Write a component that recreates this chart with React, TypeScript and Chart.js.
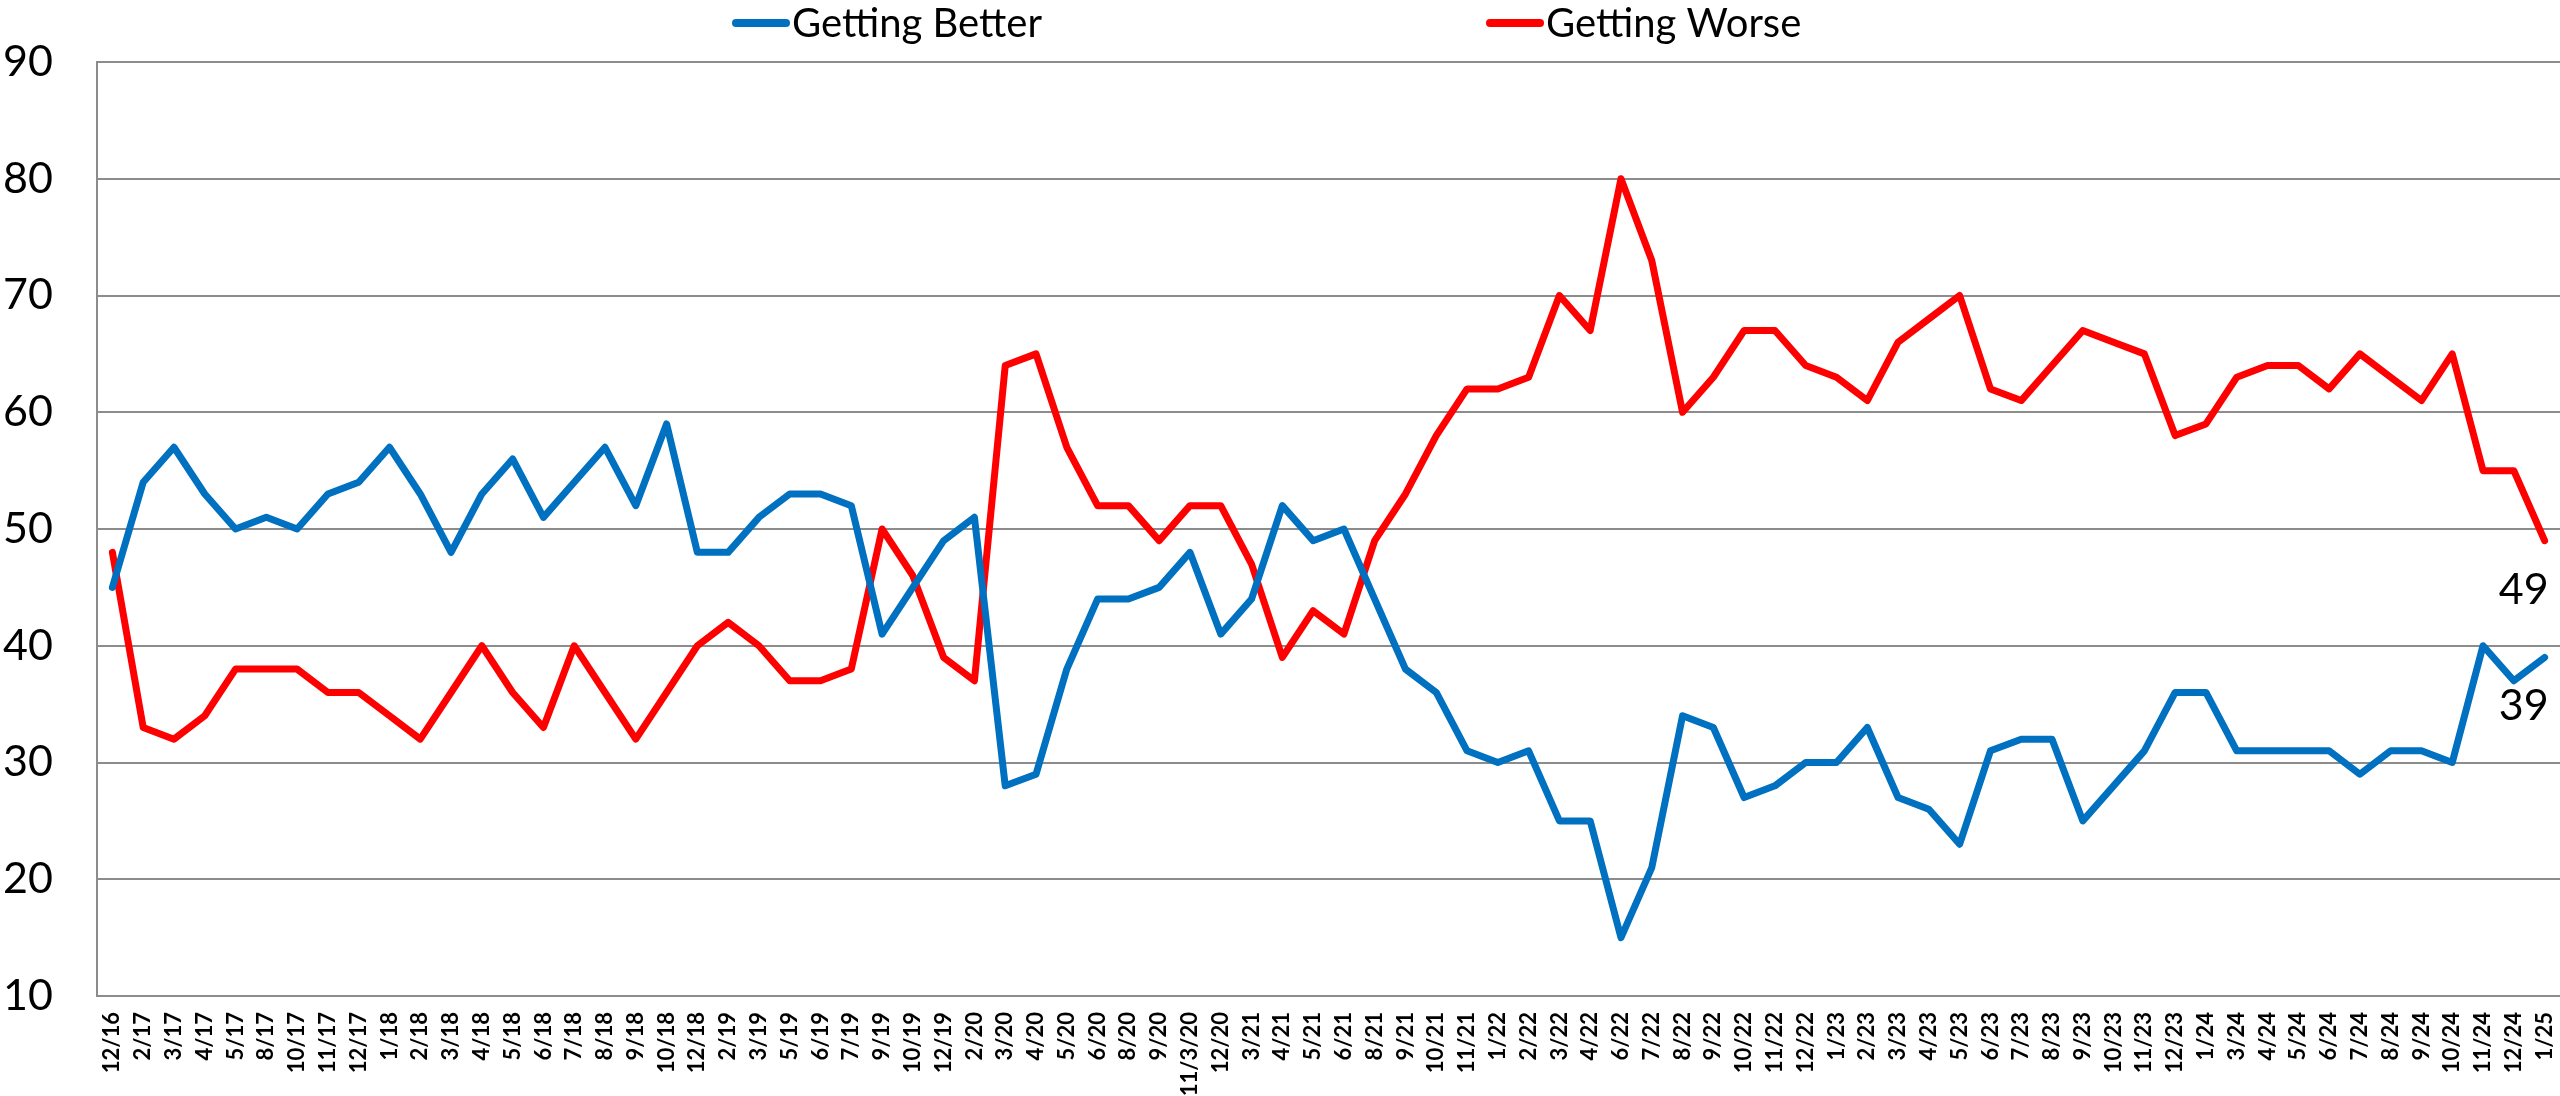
import React, { useEffect, useRef } from "react";
import { Chart, registerables } from "chart.js";

Chart.register(...registerables);

const categories: string[] = [
  "12/16", "2/17", "3/17", "4/17", "5/17", "8/17", "10/17", "11/17", "12/17",
  "1/18", "2/18", "3/18", "4/18", "5/18", "6/18", "7/18", "8/18", "9/18", "10/18", "12/18",
  "2/19", "3/19", "5/19", "6/19", "7/19", "9/19", "10/19", "12/19",
  "2/20", "3/20", "4/20", "5/20", "6/20", "8/20", "9/20", "11/3/20", "12/20",
  "3/21", "4/21", "5/21", "6/21", "8/21", "9/21", "10/21", "11/21",
  "1/22", "2/22", "3/22", "4/22", "6/22", "7/22", "8/22", "9/22", "10/22", "11/22", "12/22",
  "1/23", "2/23", "3/23", "4/23", "5/23", "6/23", "7/23", "8/23", "9/23", "10/23", "11/23", "12/23",
  "1/24", "3/24", "4/24", "5/24", "6/24", "7/24", "8/24", "9/24", "10/24", "11/24", "12/24",
  "1/25",
];

const gettingBetter: number[] = [
  45, 54, 57, 53, 50, 51, 50, 53, 54,
  57, 53, 48, 53, 56, 51, 54, 57, 52, 59, 48,
  48, 51, 53, 53, 52, 41, 45, 49,
  51, 28, 29, 38, 44, 44, 45, 48, 41,
  44, 52, 49, 50, 44, 38, 36, 31,
  30, 31, 25, 25, 15, 21, 34, 33, 27, 28, 30,
  30, 33, 27, 26, 23, 31, 32, 32, 25, 28, 31, 36,
  36, 31, 31, 31, 31, 29, 31, 31, 30, 40, 37,
  39,
];

const gettingWorse: number[] = [
  48, 33, 32, 34, 38, 38, 38, 36, 36,
  34, 32, 36, 40, 36, 33, 40, 36, 32, 36, 40,
  42, 40, 37, 37, 38, 50, 46, 39,
  37, 64, 65, 57, 52, 52, 49, 52, 52,
  47, 39, 43, 41, 49, 53, 58, 62,
  62, 63, 70, 67, 80, 73, 60, 63, 67, 67, 64,
  63, 61, 66, 68, 70, 62, 61, 64, 67, 66, 65, 58,
  59, 63, 64, 64, 62, 65, 63, 61, 65, 55, 55,
  49,
];

const seriesNames: string[] = ["Getting Better", "Getting Worse"];
const seriesColors: string[] = ["#0070C0", "#FF0000"];

const yMin = 10;
const yMax = 90;
const yStep = 10;

const FONT = "Lato, 'Open Sans', 'DejaVu Sans', sans-serif";
const GRID = "#8C8C8C";

export default function App() {
  const ref = useRef<HTMLCanvasElement>(null);

  useEffect(() => {
    const canvas = ref.current;
    if (!canvas) return;

    const legendPlugin = {
      id: "topLegend",
      afterDraw(chart: any) {
        const ctx = chart.ctx;
        ctx.save();
        const positions = [732, 1486];
        const y = 23;
        ctx.font = `40px ${FONT}`;
        ctx.textBaseline = "middle";
        ctx.textAlign = "left";
        seriesNames.forEach((name, i) => {
          const x = positions[i];
          ctx.strokeStyle = seriesColors[i];
          ctx.lineWidth = 8;
          ctx.lineCap = "round";
          ctx.beginPath();
          ctx.moveTo(x + 4, y);
          ctx.lineTo(x + 54, y);
          ctx.stroke();
          ctx.fillStyle = "#000";
          ctx.fillText(name, x + 60, y + 1);
        });
        ctx.restore();
      },
    };

    const endLabelPlugin = {
      id: "endLabels",
      afterDatasetsDraw(chart: any) {
        const ctx = chart.ctx;
        ctx.save();
        ctx.font = `43px ${FONT}`;
        ctx.fillStyle = "#000";
        ctx.textAlign = "right";
        ctx.textBaseline = "middle";
        chart.data.datasets.forEach((ds: any, i: number) => {
          const meta = chart.getDatasetMeta(i);
          const last = meta.data[meta.data.length - 1];
          const v = ds.data[ds.data.length - 1];
          ctx.fillText(String(v), last.x + 4, last.y + 49);
        });
        ctx.restore();
      },
    };

    const chart = new Chart(canvas, {
      type: "line",
      data: {
        labels: categories,
        datasets: [
          {
            label: seriesNames[0],
            data: gettingBetter,
            borderColor: seriesColors[0],
            backgroundColor: seriesColors[0],
            borderWidth: 7,
            pointRadius: 0,
            tension: 0,
            borderJoinStyle: "round",
            borderCapStyle: "round",
          },
          {
            label: seriesNames[1],
            data: gettingWorse,
            borderColor: seriesColors[1],
            backgroundColor: seriesColors[1],
            borderWidth: 7,
            pointRadius: 0,
            tension: 0,
            borderJoinStyle: "round",
            borderCapStyle: "round",
          },
        ],
      },
      options: {
        responsive: false,
        animation: false,
        devicePixelRatio: 1,
        layout: { padding: { top: 62, left: 0, right: 0, bottom: 0 } },
        plugins: {
          legend: { display: false },
          tooltip: { enabled: false },
          title: { display: false },
        },
        scales: {
          x: {
            type: "category",
            offset: true,
            grid: { display: false, drawTicks: false },
            border: { display: true, color: GRID, width: 2 },
            ticks: {
              autoSkip: false,
              minRotation: 90,
              maxRotation: 90,
              padding: 16,
              color: "#000",
              font: { family: FONT, size: 22, weight: "bold" },
            },
            afterFit(scale: any) {
              scale.height = 100;
              scale.paddingLeft = 0;
              scale.paddingRight = 0;
            },
          },
          y: {
            min: yMin,
            max: yMax,
            grid: { color: GRID, lineWidth: 2, drawTicks: false },
            border: { display: true, color: GRID, width: 2 },
            ticks: {
              stepSize: yStep,
              padding: 44,
              color: "#000",
              font: { family: FONT, size: 43 },
            },
            afterFit(scale: any) {
              scale.width = 97;
              scale.paddingTop = 0;
              scale.paddingBottom = 0;
            },
          },
        },
      },
      plugins: [legendPlugin, endLabelPlugin],
    });

    return () => chart.destroy();
  }, []);

  return (
    <div style={{ position: "fixed", left: 0, top: 0, width: 2560, height: 1096, background: "#fff" }}>
      <canvas ref={ref} width={2560} height={1096} style={{ display: "block", width: 2560, height: 1096 }} />
    </div>
  );
}
